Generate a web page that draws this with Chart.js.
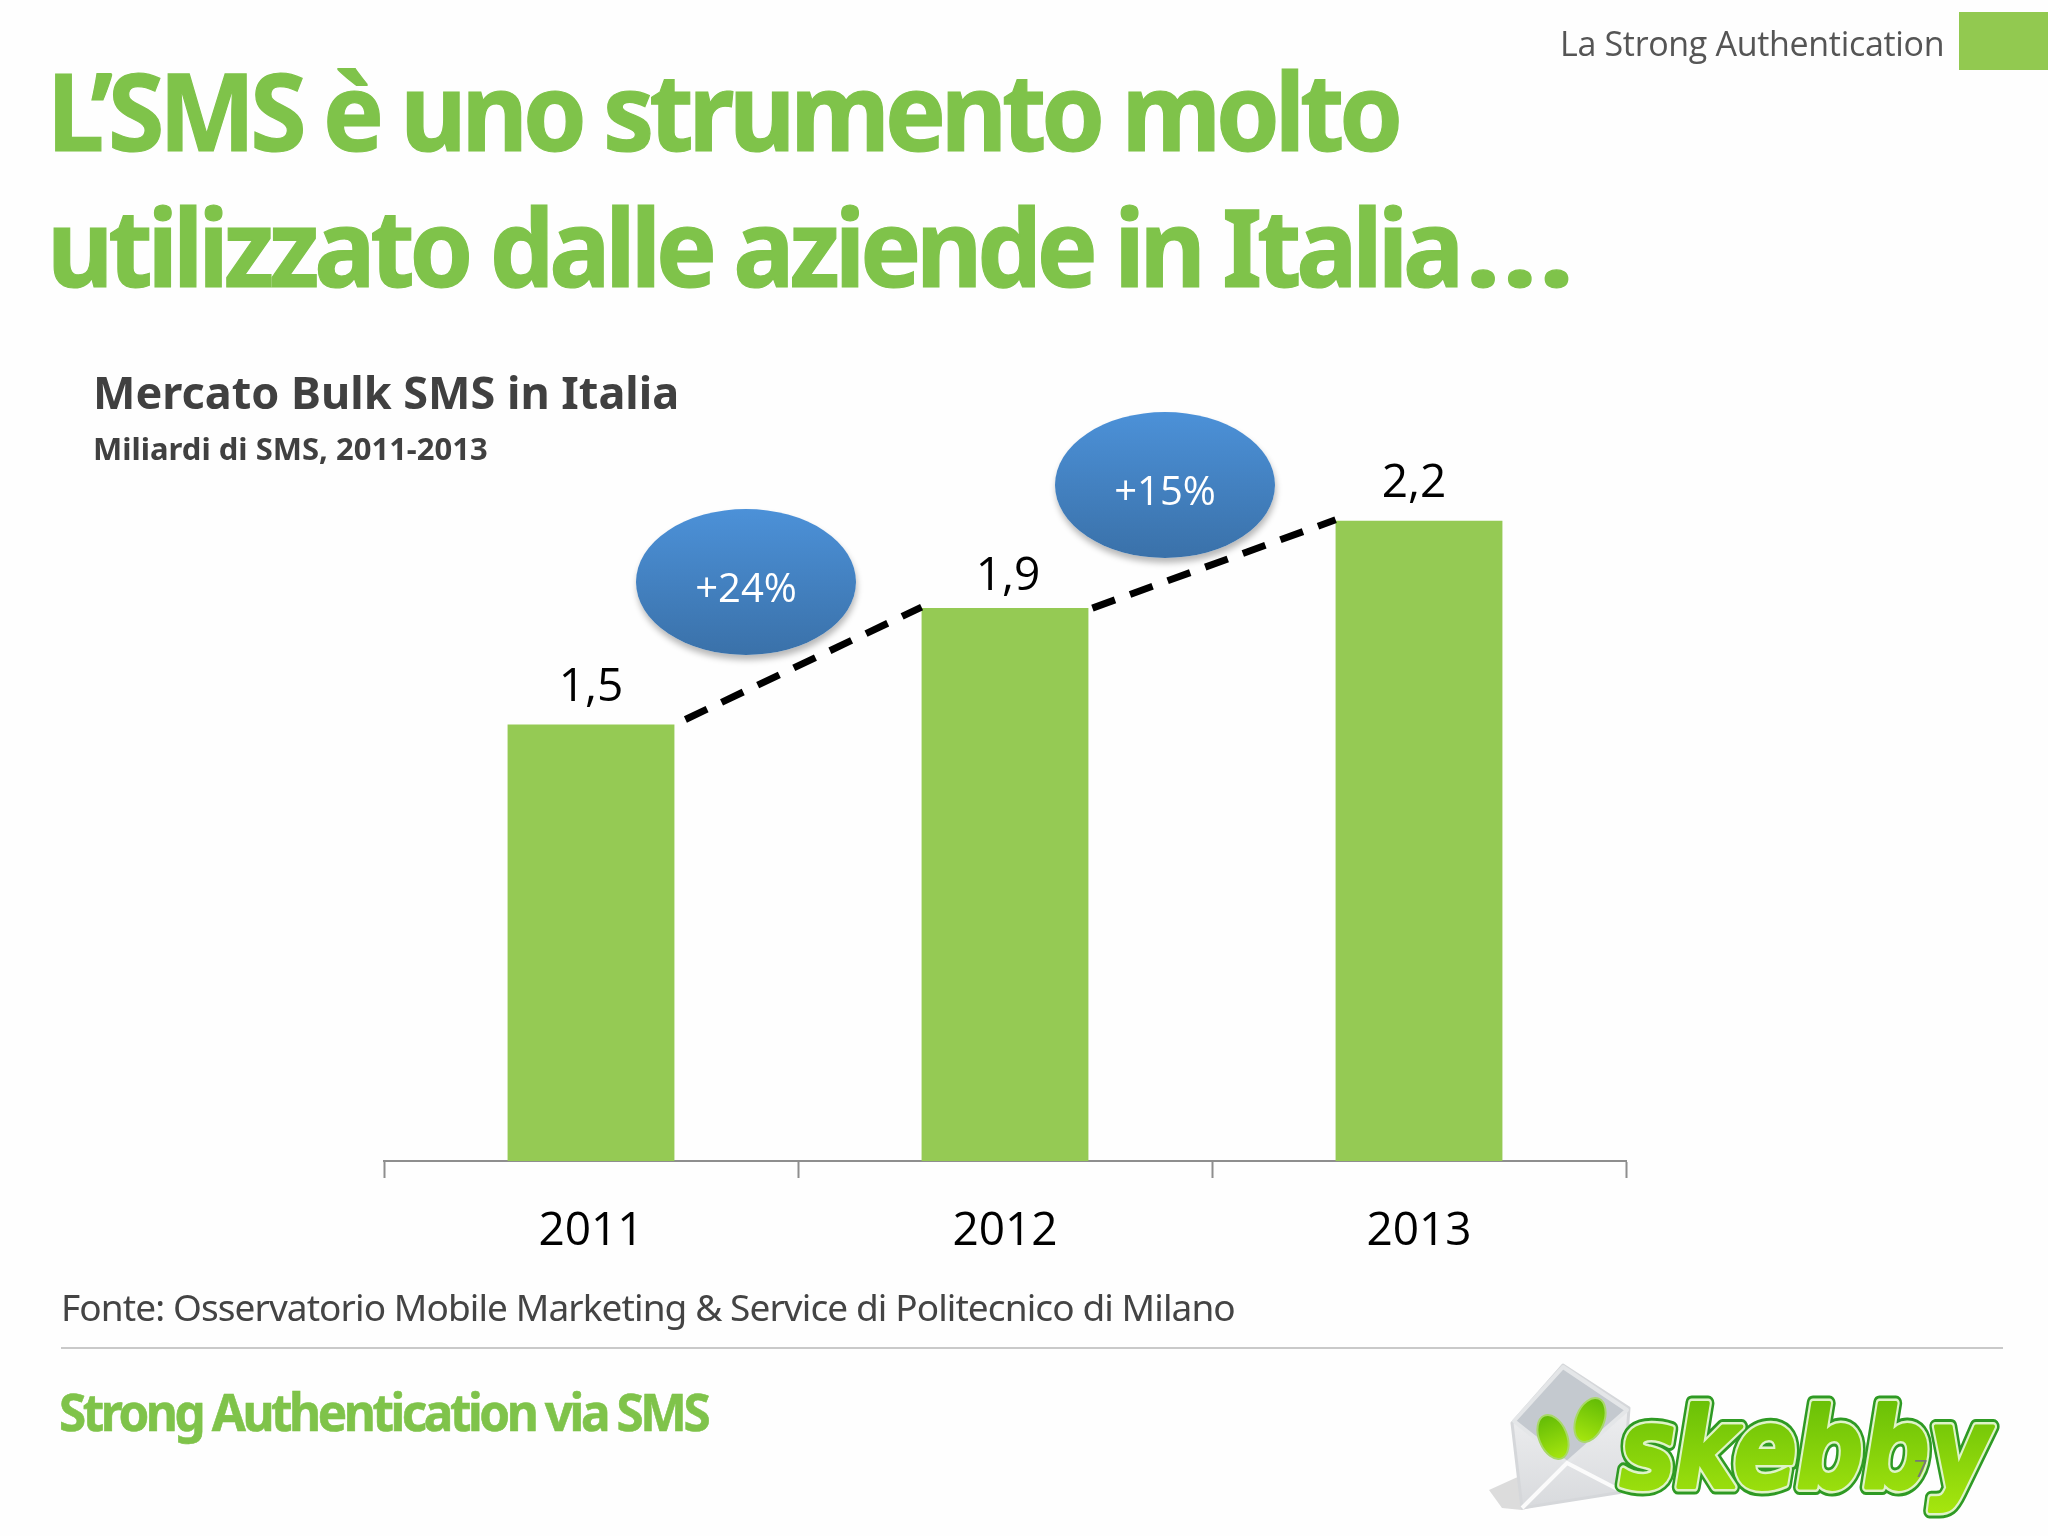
<!DOCTYPE html>
<html lang="it">
<head>
<meta charset="utf-8">
<title>Mercato Bulk SMS in Italia</title>
<script src="https://cdn.jsdelivr.net/npm/chart.js@4/dist/chart.umd.min.js"></script>
<style>
html,body{margin:0;padding:0;background:#fff;}
#page{position:relative;width:2048px;height:1536px;overflow:hidden;background:#fefefe;font-family:"Noto Sans",sans-serif;}
#page canvas{position:absolute;left:0;top:0;}
.t{position:absolute;white-space:nowrap;line-height:1;}
.title{left:47px;font-size:108px;font-weight:700;color:#7fc34a;letter-spacing:-5.4px;transform:scaleX(.946);transform-origin:left top;-webkit-text-stroke:1.2px #7fc34a;}
.dots{display:inline-block;transform:scaleX(1.26);transform-origin:left center;letter-spacing:0;margin-left:6px;}
.bubble{position:absolute;width:220px;height:146px;border-radius:50%;background:linear-gradient(#4c91d8,#3a71a9);box-shadow:1px 5px 6px rgba(0,0,0,.28);color:#fff;font-family:"Open Sans";font-size:40px;display:flex;align-items:center;justify-content:center;padding-top:8px;box-sizing:border-box;}
#rule{position:absolute;left:61px;top:1347px;width:1942px;height:2px;background:#c9c9c9;}
#tag{position:absolute;left:1959px;top:12px;width:89px;height:58px;background:#92c950;}
#logo{position:absolute;left:1480px;top:1355px;}
</style>
</head>
<body>
<div id="page">
<canvas id="c" width="2048" height="1536"></canvas>
<div id="tag"></div>
<div class="t" style="left:1560px;top:26px;font-size:34px;color:#555;font-family:'Open Sans';letter-spacing:-.32px">La Strong Authentication</div>
<div class="t title" style="top:56px">L’SMS è uno strumento molto</div>
<div class="t title" style="top:192px">utilizzato dalle aziende in Italia<span class="dots">…</span></div>
<div class="t" style="left:93px;top:369px;font-size:45px;font-weight:700;color:#404040">Mercato Bulk SMS in Italia</div>
<div class="t" style="left:93px;top:433px;font-size:31px;font-weight:700;color:#404040">Miliardi di SMS, 2011-2013</div>
<div class="bubble" style="left:636px;top:509px" id="b0"></div>
<div class="bubble" style="left:1055px;top:412px" id="b1"></div>
<div class="t" style="left:61px;top:1288px;font-size:37px;color:#444;letter-spacing:-.9px">Fonte: Osservatorio Mobile Marketing &amp; Service di Politecnico di Milano</div>
<div id="rule"></div>
<div class="t" style="left:59px;top:1385px;font-size:52px;font-weight:700;color:#7fc34a;letter-spacing:-3.6px;transform:scaleX(.949);transform-origin:left top;-webkit-text-stroke:.6px #7fc34a">Strong Authentication via SMS</div>
<svg id="logo" width="530" height="165" viewBox="0 0 530 165">
<defs>
<linearGradient id="g" x1="0" y1="0" x2="0" y2="1"><stop offset="0" stop-color="#62bb06"/><stop offset="1" stop-color="#a6e60e"/></linearGradient>
<linearGradient id="e" x1="0" y1="0" x2="0" y2="1"><stop offset="0" stop-color="#f7f7f8"/><stop offset="1" stop-color="#d8dadd"/></linearGradient>
</defs>
<polygon points="9,135 42,120 143,128 42,155 22,153" fill="#dcdcdc"/>
<polygon points="32,68 83,10 149,53 143,137 42,153" fill="url(#e)" stroke="#d5d7da" stroke-width="3" stroke-linejoin="round"/>
<polygon points="34,66 83,12 147,55 87,108" fill="#c4c9cf" stroke="#e4e6e8" stroke-width="4" stroke-linejoin="round"/>
<path d="M42,153 L87,108 L143,137" fill="none" stroke="#fbfbfb" stroke-width="4"/>
<ellipse cx="73" cy="82" rx="14" ry="23" transform="rotate(-22 73 82)" fill="url(#g)" stroke="#a8d868" stroke-width="2"/>
<ellipse cx="110" cy="65" rx="14" ry="23" transform="rotate(22 110 65)" fill="url(#g)" stroke="#a8d868" stroke-width="2"/>
<text x="140" y="132" font-family="DejaVu Sans" font-weight="700" font-style="italic" font-size="110" textLength="370" lengthAdjust="spacingAndGlyphs" stroke="#2e9a23" stroke-width="15" stroke-linejoin="round" fill="#2e9a23">skebby</text>
<text x="140" y="132" font-family="DejaVu Sans" font-weight="700" font-style="italic" font-size="110" textLength="370" lengthAdjust="spacingAndGlyphs" stroke="#dff3c8" stroke-width="9" stroke-linejoin="round" fill="#dff3c8">skebby</text>
<text x="140" y="132" font-family="DejaVu Sans" font-weight="700" font-style="italic" font-size="110" textLength="370" lengthAdjust="spacingAndGlyphs" stroke="url(#g)" stroke-width="4" stroke-linejoin="round" fill="url(#g)">skebby</text>
<text x="434" y="122" font-family="Open Sans" font-size="24" fill="#777">7</text>
</svg>
</div>
<script>
const years = ["2011", "2012", "2013"];
const values = [1.5, 1.9, 2.2];
const growth = ["+24%", "+15%"];

const fmt = v => v.toFixed(1).replace(".", ",");
document.getElementById("b0").textContent = growth[0];
document.getElementById("b1").textContent = growth[1];

const labelNudgeX = [0, 3, -5];
const labelNudgeY = [-24, -18, -24];

const overlays = {
  id: "overlays",
  afterDatasetsDraw(chart) {
    const ctx = chart.ctx;
    const bars = chart.getDatasetMeta(0).data;
    ctx.save();
    ctx.fillStyle = "#000";
    ctx.font = '46px "Open Sans"';
    ctx.textAlign = "center";
    ctx.textBaseline = "alphabetic";
    bars.forEach((b, i) => ctx.fillText(fmt(values[i]), b.x + labelNudgeX[i], b.y + labelNudgeY[i]));
    ctx.strokeStyle = "#000";
    ctx.lineWidth = 7;
    ctx.setLineDash([24, 16]);
    for (let i = 0; i < bars.length - 1; i++) {
      const a = bars[i], n = bars[i + 1];
      ctx.beginPath();
      ctx.moveTo(a.x + a.width / 2 + (i === 0 ? 11 : 4), a.y - (i === 0 ? 5 : 0));
      ctx.lineTo(n.x - n.width / 2, n.y - 1);
      ctx.stroke();
    }
    ctx.restore();
  }
};

new Chart(document.getElementById("c"), {
  type: "bar",
  data: {
    labels: years,
    datasets: [{ data: values, backgroundColor: "#95ca54", borderWidth: 0, barPercentage: 0.403, categoryPercentage: 1 }]
  },
  options: {
    responsive: false,
    devicePixelRatio: 1,
    animation: false,
    layout: { padding: { left: 384, right: 422, top: 288, bottom: 0 } },
    plugins: { legend: { display: false }, tooltip: { enabled: false }, title: { display: false } },
    scales: {
      y: { display: false, min: 0, max: 3 },
      x: {
        afterFit(s) { s.height = 375; },
        border: { color: "#8e8e8e", width: 2 },
        grid: { drawOnChartArea: false, drawTicks: true, tickLength: 17, tickWidth: 2, tickColor: "#8e8e8e" },
        ticks: { color: "#000", font: { family: "Open Sans", size: 46 }, padding: 26, maxRotation: 0 }
      }
    }
  },
  plugins: [overlays]
});
</script>
</body>
</html>
